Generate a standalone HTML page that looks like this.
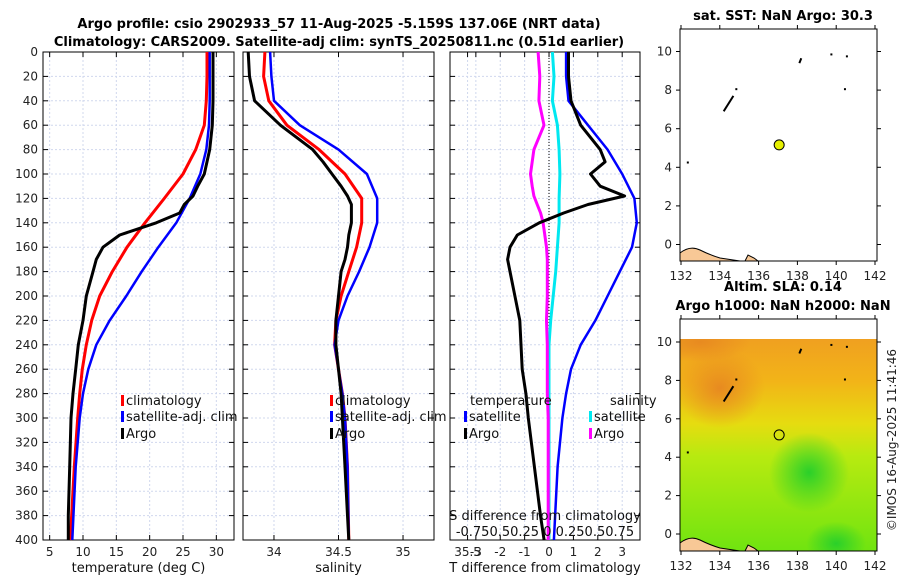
<!DOCTYPE html>
<html><head><meta charset="utf-8">
<style>
body{margin:0;background:#fff;}
svg{display:block;font-family:"DejaVu Sans","Liberation Sans",sans-serif;}
.t{font-size:13px;font-weight:bold;fill:#000}
.tk{font-size:12px;fill:#222}
.lg{font-size:13px;fill:#111}
</style></head>
<body>
<svg id="c" width="900" height="580" viewBox="0 0 900 580">
<defs>
<linearGradient id="sla" x1="0" y1="0" x2="0" y2="1">
<stop offset="0" stop-color="#f0a020"/><stop offset="0.2" stop-color="#f2b418"/>
<stop offset="0.4" stop-color="#e6dc10"/><stop offset="0.55" stop-color="#b8ea10"/>
<stop offset="1" stop-color="#70e410"/></linearGradient>
<radialGradient id="g1"><stop offset="0" stop-color="#2ad02a"/><stop offset="1" stop-color="#2ad02a" stop-opacity="0"/></radialGradient>
<radialGradient id="o1"><stop offset="0" stop-color="#e88a20"/><stop offset="1" stop-color="#e88a20" stop-opacity="0"/></radialGradient>
<clipPath id="mclip"><rect x="680" y="339" width="197" height="212"/></clipPath>
</defs>
</svg>
<script>
const depths=[0,20,40,60,80,100,120,140,160,180,200,220,240,260,280,300,340,400];
const tClim=[28.6,28.6,28.5,28.2,26.9,25,22.2,19.3,16.6,14.4,12.5,11.3,10.5,9.9,9.5,9.2,8.7,8.1];
const tSat=[29.0,29.0,29.0,28.9,28.5,27.6,26.0,24.0,21.3,18.8,16.5,14.0,12.0,10.8,10.0,9.5,8.9,8.4];
const argoDepths=[0,20,40,60,80,90,100,110,118,125,132,140,150,160,170,180,200,220,240,260,280,300,340,380,400];
const tArgo=[29.5,29.5,29.5,29.4,29.0,28.6,28.2,27.2,26.5,25.2,24.5,21.0,15.5,13.0,12.0,11.5,10.5,10.0,9.3,8.9,8.5,8.2,8.0,7.8,7.8];
const sClim=[33.93,33.92,33.96,34.1,34.35,34.55,34.68,34.68,34.64,34.58,34.52,34.48,34.47,34.5,34.53,34.55,34.57,34.58];
const sSat=[33.97,33.98,34.0,34.2,34.5,34.72,34.8,34.8,34.74,34.66,34.57,34.5,34.47,34.5,34.53,34.55,34.57,34.58];
const sArgo=[33.8,33.81,33.85,34.05,34.3,34.38,34.45,34.52,34.57,34.6,34.6,34.6,34.58,34.57,34.55,34.52,34.5,34.48,34.48,34.5,34.52,34.53,34.55,34.57,34.58];
const tDiffSat=[0.7,0.7,0.8,1.6,2.4,3.0,3.5,3.6,3.4,2.9,2.4,1.9,1.3,0.9,0.7,0.55,0.35,0.2];
const tDiffArgo=[0.8,0.8,0.9,1.3,2.1,2.3,1.7,2.1,3.1,1.6,0.6,-0.4,-1.3,-1.6,-1.7,-1.6,-1.4,-1.2,-1.15,-1.1,-0.95,-0.85,-0.6,-0.35,-0.2];
const sDiffSat=[0.04,0.06,0.04,0.1,0.12,0.13,0.12,0.12,0.1,0.08,0.05,0.02,0.0,0.0,0.0,0.0,0.0,0.0];
const sDiffArgo=[-0.13,-0.11,-0.12,-0.06,-0.18,-0.2,-0.22,-0.2,-0.18,-0.14,-0.1,-0.07,-0.05,-0.03,-0.02,-0.02,-0.02,-0.03,-0.02,-0.02,-0.02,-0.01,-0.01,-0.01,-0.01];
const depthTicks=[0,20,40,60,80,100,120,140,160,180,200,220,240,260,280,300,320,340,360,380,400];
const tTicks=[5,10,15,20,25,30];
const sTicks=[34,34.5,35,35.5];
const dTicks=[-3,-2,-1,0,1,2,3];
const dTickLbl=["-3","-2","-1","0","1","2","3"];
const lonTicks=[132,134,136,138,140,142];
const latTicks=[0,2,4,6,8,10];
const argoLon=137.06, argoLat=5.16;

const NS="http://www.w3.org/2000/svg";
const svg=document.getElementById('c');
function el(tag,a,parent){const e=document.createElementNS(NS,tag);for(const k in a)e.setAttribute(k,a[k]);(parent||svg).appendChild(e);return e;}
function txt(x,y,s,cls,anchor,parent){const e=el('text',{x:x,y:y,class:cls,'text-anchor':anchor||'middle'},parent);e.textContent=s;return e;}

const Y0=52,Y1=540;
const yD=d=>Y0+(d/400)*(Y1-Y0);
const P1={x0:43,x1:234,v0:4,v1:32.65};
const P2={x0:243,x1:434,v0:33.76,v1:35.24};
const P3={x0:450,x1:640,v0:-4.06,v1:3.73};
const sx=(P,v)=>P.x0+(v-P.v0)/(P.v1-P.v0)*(P.x1-P.x0);
const sdx=v=>549+v*84;

function panel(P,name,ticks,lbls,xlabel){
  const g=el('g',{},svg);
  
  
  depthTicks.forEach(d=>{el('line',{x1:P.x0,x2:P.x1,y1:yD(d),y2:yD(d),stroke:'#d0d8ee','stroke-width':1,'stroke-dasharray':'2,2'},g);});
  ticks.forEach(v=>{const x=sx(P,v);el('line',{x1:x,x2:x,y1:Y0,y2:Y1,stroke:'#d0d8ee','stroke-width':1,'stroke-dasharray':'2,2'},g);});
  ticks.forEach((v,i)=>{const x=sx(P,v);el('line',{x1:x,x2:x,y1:Y1,y2:Y1-5,stroke:'#000'},g);el('line',{x1:x,x2:x,y1:Y0,y2:Y0+5,stroke:'#000'},g);txt(x,556,lbls[i],'tk','middle',g);});
  depthTicks.forEach(d=>{el('line',{x1:P.x0,x2:P.x0+5,y1:yD(d),y2:yD(d),stroke:'#000'},g);el('line',{x1:P.x1,x2:P.x1-5,y1:yD(d),y2:yD(d),stroke:'#000'},g);});
  el('rect',{x:P.x0,y:Y0,width:P.x1-P.x0,height:Y1-Y0,fill:'none',stroke:'#000','stroke-width':1},g);
  const xl=txt((P.x0+P.x1)/2,572,xlabel,'lg','middle',g);
  
  return g;
}
function line(g,xs,ds,color,w,name){
  const pts=ds.map((d,i)=>xs[i].toFixed(1)+','+yD(d).toFixed(1)).join(' ');
  const p=el('polyline',{points:pts,fill:'none',stroke:color,'stroke-width':w,'stroke-linejoin':'round'},g);
  
  
}
function legend(g,x,y,color,label,name){
  el('rect',{x:x,y:y-10,width:3,height:11,fill:color},g);
  const t=txt(x+5,y,label,'lg','start',g);
  
  
}

const g1=panel(P1,'temperature-panel',tTicks,tTicks.map(String),'temperature (deg C)');
depthTicks.forEach(d=>txt(38,yD(d)+4,String(d),'tk','end',g1));
line(g1,tClim.map(v=>sx(P1,v)),depths,'#ff0000',3,'temperature-climatology-line');
line(g1,tSat.map(v=>sx(P1,v)),depths,'#0000ff',2.5,'temperature-satellite-line');
line(g1,tArgo.map(v=>sx(P1,v)),argoDepths,'#000',3,'temperature-argo-line');
legend(g1,121,405,'#ff0000','climatology','legend-climatology');
legend(g1,121,421,'#0000ff','satellite-adj. clim','legend-satellite');
legend(g1,121,438,'#000','Argo','legend-argo');

const g2=panel(P2,'salinity-panel',sTicks,["34","34.5","35","35.5"],'salinity');
line(g2,sClim.map(v=>sx(P2,v)),depths,'#ff0000',3,'salinity-climatology-line');
line(g2,sSat.map(v=>sx(P2,v)),depths,'#0000ff',2.5,'salinity-satellite-line');
line(g2,sArgo.map(v=>sx(P2,v)),argoDepths,'#000',3,'salinity-argo-line');
legend(g2,330,405,'#ff0000','climatology','legend-climatology-2');
legend(g2,330,421,'#0000ff','satellite-adj. clim','legend-satellite-2');
legend(g2,330,438,'#000','Argo','legend-argo-2');

const g3=panel(P3,'difference-panel',dTicks,dTickLbl,'T difference from climatology');
el('line',{x1:549,x2:549,y1:Y0,y2:Y1,stroke:'#000','stroke-dasharray':'1,2'},g3);
line(g3,sDiffSat.map(v=>sdx(v)),depths,'#00e8f0',3,'salinity-diff-satellite-line');
line(g3,sDiffArgo.map(v=>sdx(v)),argoDepths,'#ff00ff',3,'salinity-diff-argo-line');
line(g3,tDiffSat.map(v=>sx(P3,v)),depths,'#0000ff',2.5,'temperature-diff-satellite-line');
line(g3,tDiffArgo.map(v=>sx(P3,v)),argoDepths,'#000',3,'temperature-diff-argo-line');
txt(470,405,'temperature','lg','start',g3);
txt(610,405,'salinity','lg','start',g3);
legend(g3,464,421,'#0000ff','satellite','legend-t-satellite');
legend(g3,464,438,'#000','Argo','legend-t-argo');
legend(g3,589,421,'#00e8f0','satellite','legend-s-satellite');
legend(g3,589,438,'#ff00ff','Argo','legend-s-argo');
txt(545,520,'S difference from climatology','lg','middle',g3);
txt(545,536,'-0.750.50.25 0  0.250.50.75','lg','middle',g3);

let t=txt(339,28,'Argo profile: csio 2902933_57 11-Aug-2025 -5.159S 137.06E (NRT data)','t');

t=txt(339,46,'Climatology: CARS2009. Satellite-adj clim: synTS_20250811.nc (0.51d earlier)','t');


function map(y0,y1,lat10,lat0,name,title,filled){
  const g=el('g',{},svg);
  
  
  const mx=l=>681+(l-132)*19.4;
  const my=l=>lat0+(lat10-lat0)*l/10;
  if(!filled){
    el('rect',{x:680,y:339,width:197,height:y1-339,fill:'url(#sla)'},g);
    const cg=el('g',{'clip-path':'url(#mclip)'},g);
    el('ellipse',{cx:mx(138.6),cy:my(3.2),rx:40,ry:40,fill:'url(#g1)'},cg);
    el('ellipse',{cx:mx(140),cy:my(-0.5),rx:30,ry:22,fill:'url(#g1)'},cg);
    el('ellipse',{cx:mx(134),cy:my(7.6),rx:45,ry:40,fill:'url(#o1)'},cg);
    el('ellipse',{cx:mx(133),cy:my(10),rx:50,ry:20,fill:'url(#o1)'},cg);
  }
  el('path',{d:`M680 ${y1} L680 ${y1-8} Q690 ${y1-16} 700 ${y1-11} Q710 ${y1-6} 720 ${y1-3} L740 ${y1} Z`,fill:'#f8c896',stroke:'#000','stroke-width':1},g);
  el('path',{d:`M${mx(135.3)} ${y1} l3 -6 l6 3 l4 3 Z`,fill:'#f8c896',stroke:'#000','stroke-width':1},g);
  el('path',{d:`M${mx(134.2)} ${my(6.9)} L${mx(134.7)} ${my(7.7)}`,stroke:'#000','stroke-width':2},g);
  el('path',{d:`M${mx(138.1)} ${my(9.4)} L${mx(138.2)} ${my(9.65)}`,stroke:'#000','stroke-width':2},g);
  [[139.7,9.9],[140.5,9.8],[140.4,8.1],[132.3,4.3],[134.8,8.1]].forEach(p=>el('rect',{x:mx(p[0]),y:my(p[1]),width:2,height:2,fill:'#000'},g));
  const c=el('circle',{cx:mx(argoLon),cy:my(argoLat),r:5,fill:filled?'#e6f000':'none',stroke:'#000','stroke-width':1},g);
  
  
  el('rect',{x:680,y:y0,width:197,height:y1-y0,fill:'none',stroke:'#000'},g);
  lonTicks.forEach(l=>{const x=mx(l);el('line',{x1:x,x2:x,y1:y1,y2:y1+4,stroke:'#000'},g);el('line',{x1:x,x2:x,y1:y0,y2:y0-4,stroke:'#000'},g);txt(x,y1+19,String(l),'tk','middle',g);});
  latTicks.forEach(l=>{const y=my(l);el('line',{x1:676,x2:680,y1:y,y2:y,stroke:'#000'},g);el('line',{x1:877,x2:881,y1:y,y2:y,stroke:'#000'},g);txt(672,y+4,String(l),'tk','end',g);});
  title.forEach((s,i)=>{const tt=txt(783,y0-9-(title.length-1-i)*19,s,'t','middle',g);});
}
map(29,261,51.5,244.5,'sst-map',['sat. SST: NaN Argo: 30.3'],true);
map(319,551,342,534,'sla-map',['Altim. SLA: 0.14','Argo h1000: NaN h2000: NaN'],false);
t=txt(0,0,'©IMOS 16-Aug-2025 11:41:46','tk','middle');
t.setAttribute('transform','translate(896,440) rotate(-90)');

</script>
</body></html>
